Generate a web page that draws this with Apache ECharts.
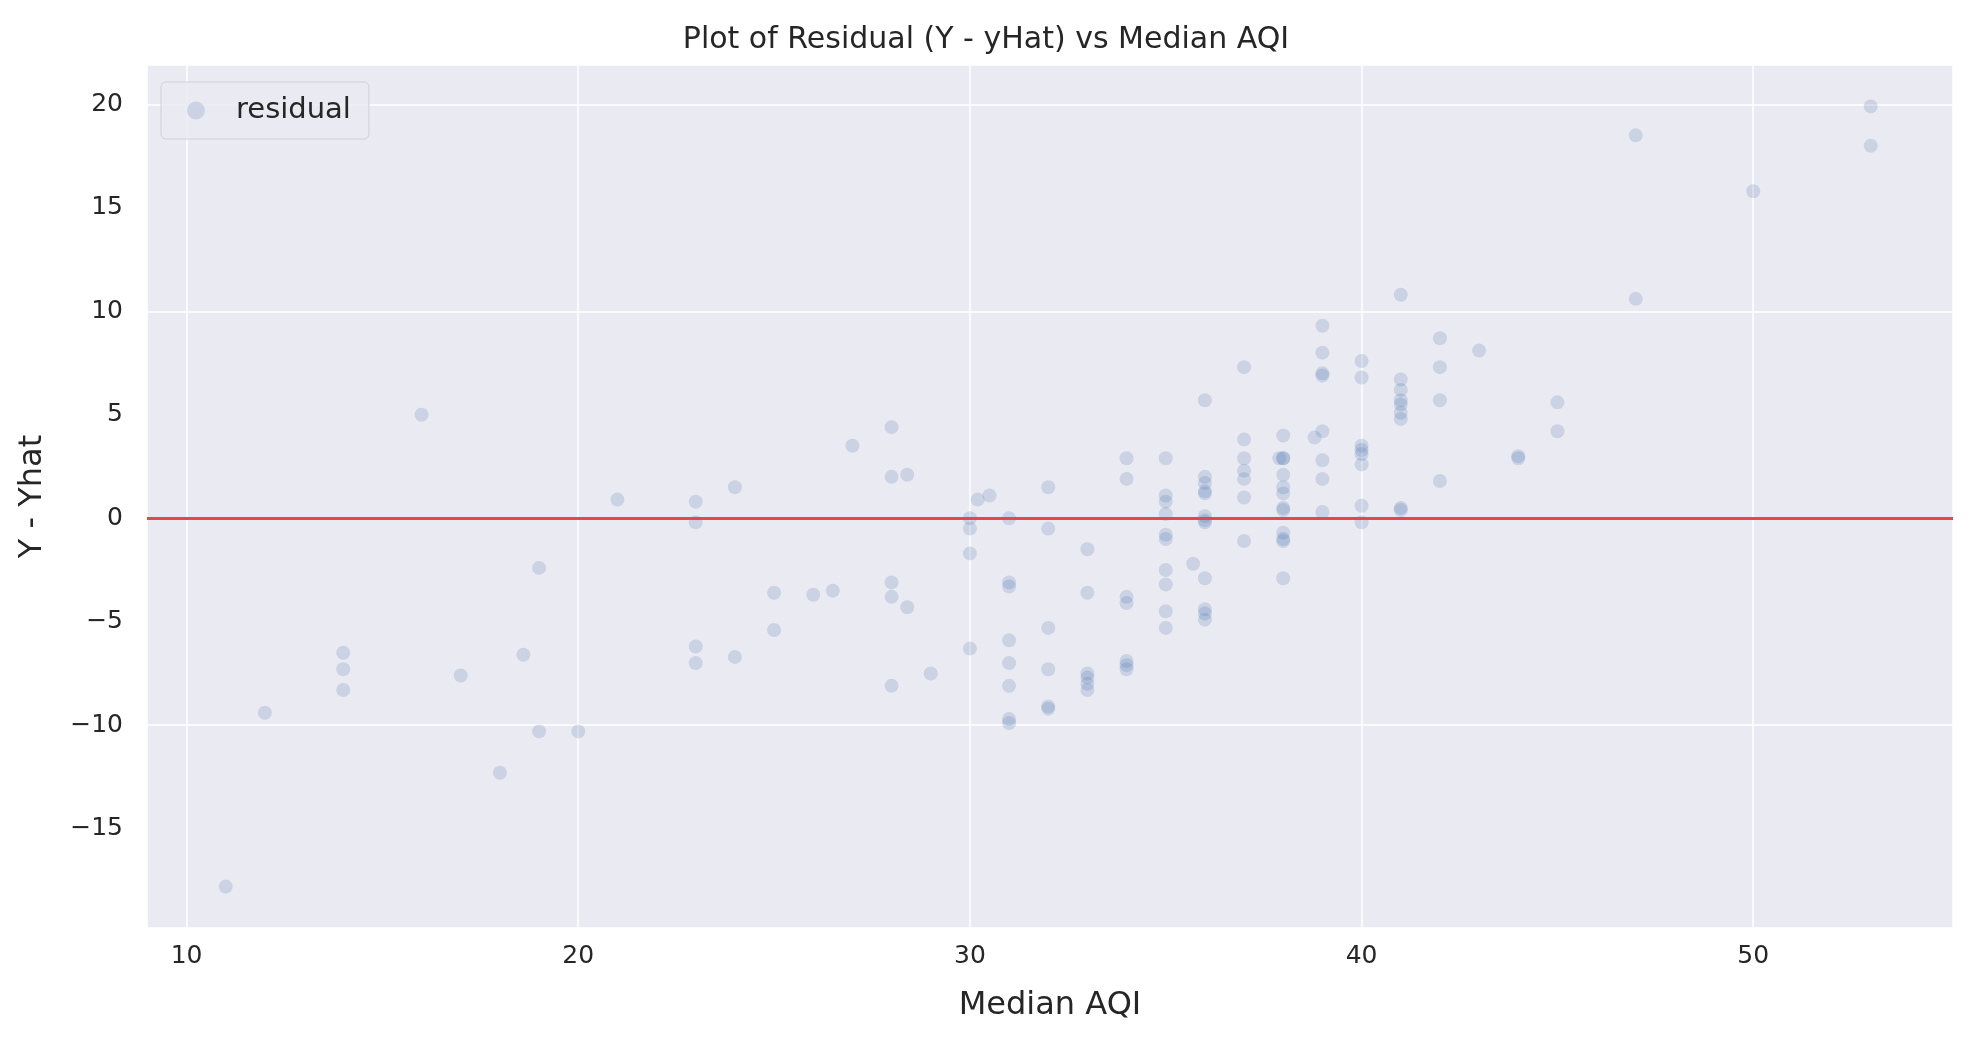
<!DOCTYPE html>
<html>
<head>
<meta charset="utf-8">
<script src="https://cdn.jsdelivr.net/npm/echarts@6/dist/echarts.min.js"></script>
<style>html,body{margin:0;padding:0;background:#fff}#main{width:1972px;height:1038px}</style>
</head>
<body>
<div id="main"></div>
<script>
// Median AQI values and residuals (Y - yHat)
var aqi = [11,12,14,14,14,16,17,18,18.6,19,19,20,21,23,23,23,23,24,24,25,25,26,26.5,27,28,28,28.4,28,28,28.4,28,29,
  30,30,30,30,30.2,30.5,31,31,31,31,31,31,31,31,32,32,32,32,32,32,33,33,33,33,33,33,34,34,34,34,34,34,34,
  35,35,35,35,35,35,35,35,35,35,35.7,36,36,36,36,36,36,36,36,36,36,36,36,37,37,37,37,37,37,37,
  38,38,38,37.9,38,38,38,38,38,38,38,38,38,38.8,39,39,39,39,39,39,39,39,40,40,40,40,40,40,40,40,
  41,41,41,41,41,41,41,41,41,42,42,42,42,43,44,44,45,45,47,47,50,53,53];
var residual = [-17.8,-9.4,-6.5,-7.3,-8.3,5.0,-7.6,-12.3,-6.6,-2.4,-10.3,-10.3,0.9,0.8,-0.2,-6.2,-7.0,1.5,-6.7,-3.6,-5.4,-3.7,-3.5,3.5,4.4,2.0,2.1,-3.1,-3.8,-4.3,-8.1,-7.5,
  0.0,-0.5,-1.7,-6.3,0.9,1.1,0.0,-3.1,-3.3,-5.9,-7.0,-8.1,-9.7,-9.9,1.5,-0.5,-5.3,-7.3,-9.1,-9.2,-1.5,-3.6,-7.5,-7.7,-8.0,-8.3,2.9,1.9,-3.8,-4.1,-6.9,-7.1,-7.3,
  2.9,1.1,0.8,0.2,-0.8,-1.0,-2.5,-3.2,-4.5,-5.3,-2.2,5.7,2.0,1.7,1.2,1.3,0.1,-0.1,-0.2,-2.9,-4.4,-4.6,-4.9,7.3,3.8,2.9,2.3,1.9,1.0,-1.1,
  4.0,2.9,2.9,2.9,2.1,1.5,1.2,0.5,0.4,-0.7,-1.0,-1.1,-2.9,3.9,9.3,8.0,7.0,6.9,4.2,2.8,1.9,0.3,7.6,6.8,3.5,3.3,3.1,2.6,0.6,-0.2,
  10.8,6.7,6.2,5.7,5.5,5.1,4.8,0.5,0.4,8.7,7.3,5.7,1.8,8.1,3.0,2.9,5.6,4.2,18.5,10.6,15.8,19.9,18.0];
var xTicks = [10, 20, 30, 40, 50];
var yTicks = [-15, -10, -5, 0, 5, 10, 15, 20];

var points = aqi.map(function (a, i) { return [a, residual[i]]; });
var fontFamily = 'DejaVu Sans, Arial, sans-serif';

var myChart = echarts.init(document.getElementById('main'));
var option = {
  backgroundColor: '#ffffff',
  animation: false,
  title: {
    text: 'Plot of Residual (Y - yHat) vs Median AQI',
    left: 'center', top: 20,
    textStyle: { fontFamily: fontFamily, fontSize: 30, fontWeight: 'normal', color: '#262626' }
  },
  legend: {
    left: 161, top: 82,
    data: ['residual'],
    itemWidth: 18, itemHeight: 18, itemGap: 10,
    padding: [14, 18, 14, 26],
    backgroundColor: 'rgba(234,234,242,0.85)',
    borderColor: '#d0d0d8', borderWidth: 1, borderRadius: 5,
    textStyle: { fontFamily: fontFamily, fontSize: 29, color: '#262626', padding: [0, 0, 0, 26] }
  },
  grid: { left: 147, right: 19, top: 65, bottom: 110, backgroundColor: '#eaeaf2', show: true, borderWidth: 0 },
  xAxis: {
    type: 'value', min: 8.99, max: 55.1,
    name: 'Median AQI', nameLocation: 'middle', nameGap: 62,
    nameTextStyle: { fontFamily: fontFamily, fontSize: 32, color: '#262626' },
    axisLine: { show: false }, axisTick: { show: false },
    axisLabel: {
      fontFamily: fontFamily, fontSize: 25, color: '#262626', margin: 16,
      customValues: xTicks
    },
    splitLine: { show: true, lineStyle: { color: '#ffffff', width: 1.5 } },
    axisPointer: { show: false }
  },
  yAxis: {
    type: 'value', min: -19.8, max: 21.9,
    name: 'Y - Yhat', nameLocation: 'middle', nameGap: 98,
    nameTextStyle: { fontFamily: fontFamily, fontSize: 32, color: '#262626' },
    axisLine: { show: false }, axisTick: { show: false },
    axisLabel: {
      fontFamily: fontFamily, fontSize: 25, color: '#262626', margin: 24,
      customValues: yTicks,
      formatter: function (v) { return v < 0 ? '\u2212' + Math.abs(v) : String(v); }
    },
    splitLine: { show: true, lineStyle: { color: '#ffffff', width: 1.5 } }
  },
  series: [{
    name: 'residual',
    type: 'scatter',
    symbolSize: 14,
    itemStyle: { color: 'rgba(76,114,176,0.25)' },
    data: points,
    markLine: {
      silent: true, symbol: 'none', label: { show: false },
      lineStyle: { color: '#e24a4a', width: 3, type: 'solid' },
      data: [{ yAxis: 0 }]
    }
  }]
};
myChart.setOption(option);
</script>
</body>
</html>
